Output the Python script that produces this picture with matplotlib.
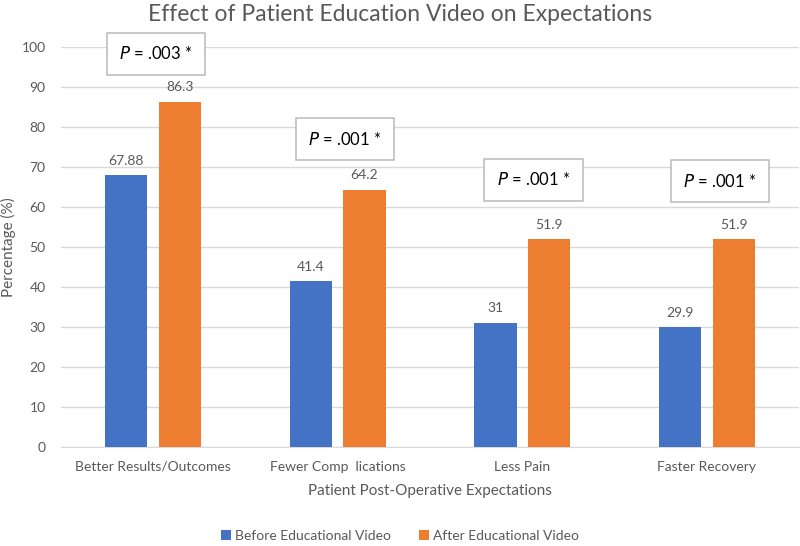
import matplotlib
matplotlib.use("Agg")
import matplotlib.pyplot as plt
import numpy as np

categories = ["Better Results/Outcomes", "Fewer Comp  lications", "Less Pain", "Faster Recovery"]
before = [67.88, 41.4, 31, 29.9]
after = [86.3, 64.2, 51.9, 51.9]
before_labels = ["67.88", "41.4", "31", "29.9"]
after_labels = ["86.3", "64.2", "51.9", "51.9"]
p_texts = [".003 *", ".001 *", ".001 *", ".001 *"]
p_y = [98.3, 77.0, 66.8, 66.5]
p_dx = [0.015, 0.04, 0.06, 0.07]
yticks = [0, 10, 20, 30, 40, 50, 60, 70, 80, 90, 100]

plt.rcParams['font.family'] = ['Lato', 'DejaVu Sans']
GRAY = "#595959"
BLUE = "#4472C4"
ORANGE = "#ED7D31"

fig = plt.figure(figsize=(8, 5.46), dpi=100)
ax = fig.add_axes([0.076, 0.1813, 0.923, 0.7326])
x = np.arange(len(categories))
w = 0.228
off = 0.145
b1 = ax.bar(x - off, before, width=w, color=BLUE, label="Before Educational Video", zorder=3)
b2 = ax.bar(x + off, after, width=w, color=ORANGE, label="After Educational Video", zorder=3)
for xi, v, s in zip(x - off, before, before_labels):
    ax.text(xi, v + 2.2, s, ha="center", va="bottom", fontsize=10, color=GRAY)
for xi, v, s in zip(x + off, after, after_labels):
    ax.text(xi, v + 2.2, s, ha="center", va="bottom", fontsize=10, color=GRAY)

for xi, yv, dx, t in zip(x, p_y, p_dx, p_texts):
    ax.text(xi + dx, yv, r"$\mathit{P}$ = " + t, ha="center", va="center", fontsize=12,
            color="black", zorder=5,
            bbox=dict(boxstyle="square,pad=0.75", fc="white", ec="#BFBFBF", lw=1.2))

ax.set_xlim(-0.5, 3.5)
ax.set_ylim(0, 100)
ax.set_yticks(yticks)
ax.set_xticks(x)
ax.set_xticklabels(categories, fontsize=10, color=GRAY)
ax.tick_params(axis="y", labelsize=10, colors=GRAY, length=0, pad=11)
ax.tick_params(axis="x", length=0, pad=10)
ax.grid(axis="y", color="#D9D9D9", lw=1, zorder=0)
for s in ["top", "right", "left"]:
    ax.spines[s].set_visible(False)
ax.spines["bottom"].set_color("#D9D9D9")
ax.set_ylabel("Percentage (%)", fontsize=11, color=GRAY, labelpad=4)
ax.set_xlabel("Patient Post-Operative Expectations", fontsize=11, color=GRAY, labelpad=8)
fig.text(0.5, 0.974, "Effect of Patient Education Video on Expectations", ha="center", va="center",
         fontsize=16.5, color=GRAY)
leg = fig.legend(loc="center", bbox_to_anchor=(0.5, 0.018), ncol=2, frameon=False, fontsize=10,
                 handlelength=0.7, handleheight=0.7, handletextpad=0.3, columnspacing=2.0)
for t in leg.get_texts():
    t.set_color(GRAY)
fig.savefig("out.png", dpi=100)
